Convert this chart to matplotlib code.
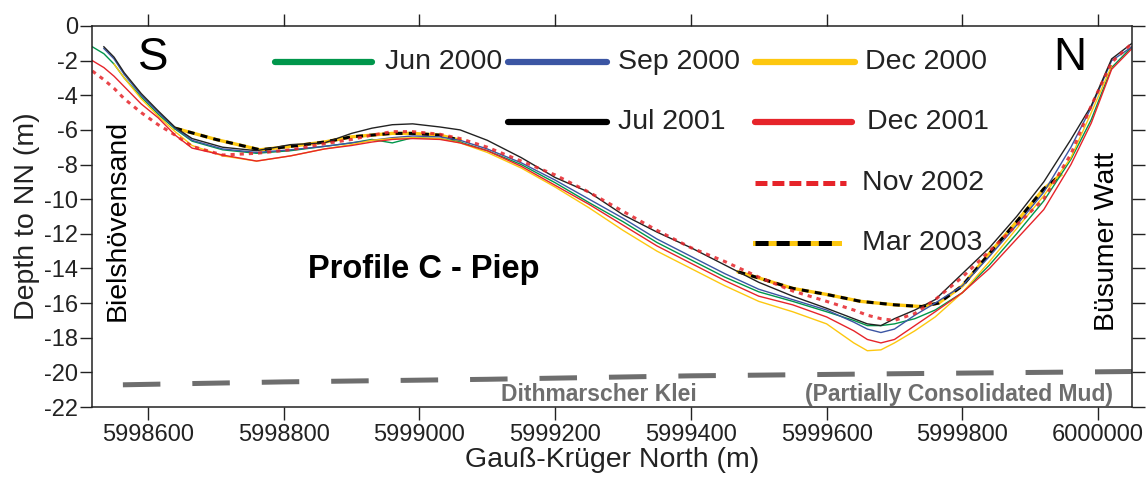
import numpy as np
import matplotlib
matplotlib.use("Agg")
import matplotlib.pyplot as plt

plt.rcParams['font.family'] = ['Liberation Sans', 'DejaVu Sans']
plt.rcParams['axes.unicode_minus'] = False
plt.rcParams['lines.scale_dashes'] = False

# ---------------- data ----------------
grid_x = [5998518, 5998535, 5998550, 5998565, 5998590, 5998615, 5998640, 5998665,
          5998710, 5998760, 5998810, 5998860, 5998900, 5998930, 5998960, 5998990,
          5999030, 5999060, 5999100, 5999150, 5999200, 5999250, 5999300, 5999350,
          5999400, 5999450, 5999500, 5999550, 5999600, 5999640, 5999660, 5999680,
          5999700, 5999730, 5999760, 5999800, 5999840, 5999880, 5999920, 5999960,
          5999990, 6000020, 6000050]
nan = np.nan

jun2000 = [-1.2, -1.6, -2.2, -3.0, -4.1, -5.1, -5.95, -6.65,
           -7.15, -7.35, -7.2, -6.95, -6.75, -6.55, -6.75, -6.45,
           -6.5, -6.7, -7.2, -8.0, -9.05, -10.2, -11.3, -12.5,
           -13.5, -14.5, -15.35, -15.9, -16.5, -17.0, -17.3, -17.3,
           -17.2, -16.9, -16.4, -15.4, -13.8, -12.0, -10.1, -7.7,
           -5.4, -2.4, -1.2]
sep2000 = [nan, -1.3, -1.9, -2.8, -4.0, -5.0, -5.9, -6.6,
           -7.1, -7.3, -7.15, -6.95, -6.75, -6.6, -6.45, -6.35,
           -6.4, -6.6, -7.1, -7.9, -8.9, -10.0, -11.1, -12.3,
           -13.3, -14.3, -15.2, -15.8, -16.4, -17.1, -17.5, -17.7,
           -17.5, -16.7, -16.0, -15.0, -13.3, -11.5, -9.6, -7.0,
           -4.7, -2.0, -1.2]
dec2000 = [nan, nan, -2.2, -3.0, -4.2, -5.2, -6.1, -6.9,
           -7.5, -7.8, -7.5, -7.1, -6.85, -6.6, -6.5, -6.45,
           -6.5, -6.75, -7.3, -8.2, -9.3, -10.5, -11.8, -13.0,
           -14.0, -15.0, -15.9, -16.5, -17.2, -18.3, -18.75, -18.7,
           -18.3, -17.6, -16.8, -15.4, -13.6, -11.7, -9.8, -7.6,
           -5.0, -2.3, nan]
jul2001 = [nan, -1.2, -1.8, -2.7, -3.9, -4.9, -5.85, -6.5,
           -7.0, -7.2, -6.85, -6.75, -6.2, -5.9, -5.7, -5.65,
           -5.83, -6.0, -6.6, -7.6, -8.75, -9.6, -10.9, -11.9,
           -12.8, -13.8, -14.8, -15.6, -16.3, -16.9, -17.2, -17.3,
           -16.9, -16.4, -15.8, -14.3, -12.8, -11.0, -9.0, -6.55,
           -4.6, -1.9, -1.0]
dec2001 = [-2.0, -2.4, -2.9, -3.5, -4.5, -5.3, -6.3, -7.05,
           -7.45, -7.8, -7.5, -7.1, -6.9, -6.7, -6.55, -6.5,
           -6.55, -6.75, -7.2, -8.1, -9.2, -10.3, -11.5, -12.7,
           -13.7, -14.7, -15.6, -16.1, -16.8, -17.6, -18.1, -18.3,
           -18.1, -17.3, -16.5, -15.4, -14.0, -12.3, -10.6, -8.0,
           -5.6, -2.5, -1.3]
nov2002 = [-2.6, -3.1, -3.6, -4.2, -5.0, -5.7, -6.3, -6.95,
           -7.45, -7.35, -7.15, -6.8, -6.55, -6.3, -6.1, -6.1,
           -6.25, -6.5, -7.0, -7.8, -8.6, -9.6, -10.7, -11.8,
           -12.8, -13.6, -14.5, -15.3, -15.9, -16.4, -16.7, -16.9,
           -17.0, -16.6, -15.8, -14.5, -13.0, -11.5, -10.0, -7.4,
           -4.6, -2.1, -1.0]

# Mar 2003 survey: hidden under the other profiles along the middle slope (gap)
mar2003_x = [5998640, 5998700, 5998765, 5998810, 5998860, 5998900, 5998960, 5998990,
             5999030, 5999060, 5999260, 5999470, 5999500, 5999550, 5999600, 5999650,
             5999700, 5999740, 5999765, 5999800, 5999845, 5999880, 5999920, 5999945]
mar2003 = [-5.9, -6.55, -7.15, -6.95, -6.7, -6.4, -6.2, -6.2,
           -6.3, -6.6, nan, -14.2, -14.55, -15.15, -15.5, -15.9,
           -16.1, -16.2, -16.0, -15.0, -12.9, -11.3, -9.4, -8.6]

# Dithmarscher Klei boundary
klei_x = [5998518, 5998800, 5999100, 5999400, 5999700, 6000050]
klei_y = [-20.75, -20.55, -20.4, -20.2, -20.08, -19.95]

xticks = [5998600, 5998800, 5999000, 5999200, 5999400, 5999600, 5999800, 6000000]
yticks = list(range(0, -23, -2))

c_green = "#00964b"
c_blue = "#3b55a3"
c_yellow = "#fdc70f"
c_red = "#e6242a"
c_gray = "#6e6e6e"

# ---------------- figure ----------------
fig = plt.figure(figsize=(11.47, 4.79), dpi=100)
ax = fig.add_axes([92 / 1147, 1 - 407 / 479, 1040 / 1147, 381 / 479])

ax.plot(klei_x, klei_y, color=c_gray, lw=3.6, linestyle=(28, (27, 23)),
        dash_capstyle='butt')

# Mar 2003 sits underneath the other surveys where they overlap
ax.plot(mar2003_x, mar2003, color=c_yellow, lw=2.4, zorder=1.8)
ax.plot(mar2003_x, mar2003, color="black", lw=2.2, linestyle=(0, (5, 4.5)), zorder=1.9)

ax.plot(grid_x, jun2000, color=c_green, lw=1.0)
ax.plot(grid_x, sep2000, color=c_blue, lw=1.0)
ax.plot(grid_x, dec2000, color=c_yellow, lw=1.0)
ax.plot(grid_x, dec2001, color=c_red, lw=1.0)
ax.plot(grid_x, jul2001, color="#222222", lw=1.0)
ax.plot(grid_x, nov2002, color=c_red, lw=2.2, linestyle=(0, (3, 3.6)), alpha=0.85)

ax.set_xlim(5998517.5, 6000050)
ax.set_ylim(-22, 0)
ax.set_xticks(xticks)
ax.set_xticklabels([str(v) for v in xticks])
ax.set_yticks(yticks)
ax.set_yticklabels([str(v) for v in yticks])
ax.tick_params(direction='out', length=9, width=1, labelsize=17, colors="#222222",
               top=True, right=True, labeltop=False, labelright=False)
ax.tick_params(axis='y', pad=1)
ax.tick_params(axis='x', pad=3)
for s in ax.spines.values():
    s.set_linewidth(1.1)
    s.set_color("#222222")

ax.set_xlabel("Gauß-Krüger North (m)", fontsize=20.5, labelpad=1, color="#222222")
ax.set_ylabel("Depth to NN (m)", fontsize=20.5, labelpad=3, color="#222222")

# ---------------- annotations ----------------
T = ax.transAxes
ax.text(0.0587, 0.916, "S", transform=T, fontsize=33, ha='center', va='center')
ax.text(0.940, 0.916, "N", transform=T, fontsize=33, ha='center', va='center')
ax.text(0.2077, 0.36, "Profile C - Piep", transform=T, fontsize=23.5, fontweight='bold',
        ha='left', va='center')
ax.text(0.025, 0.49, "Bielshövensand", transform=T, fontsize=20.5, rotation=90,
        ha='center', va='center')
ax.text(0.976, 0.435, "Büsumer Watt", transform=T, fontsize=20.5, rotation=90,
        ha='center', va='center')
ax.text(0.4875, 0.034, "Dithmarscher Klei", transform=T, fontsize=16.5, fontweight='bold',
        color=c_gray, ha='center', va='center')
ax.text(0.834, 0.034, "(Partially Consolidated Mud)", transform=T, fontsize=16.5,
        fontweight='bold', color=c_gray, ha='center', va='center')

# ---------------- hand-placed legend ----------------
legend_items = [
    ("Jun 2000", 0.176, 0.269, 0.282, 0.9055, dict(color=c_green)),
    ("Sep 2000", 0.400, 0.495, 0.506, 0.9055, dict(color=c_blue)),
    ("Dec 2000", 0.6375, 0.734, 0.743, 0.9055, dict(color=c_yellow)),
    ("Jul 2001", 0.400, 0.495, 0.506, 0.748, dict(color="black")),
    ("Dec 2001", 0.6375, 0.731, 0.745, 0.748, dict(color=c_red)),
]
for lab, x0, x1, xt, y, kw in legend_items:
    ax.plot([x0, x1], [y, y], transform=T, lw=4.5, solid_capstyle='round',
            clip_on=False, **kw)
    ax.text(xt, y, lab, transform=T, fontsize=20.5, ha='left', va='center', color="#222222")

ax.plot([0.6375, 0.725], [0.588, 0.588], transform=T, lw=3.6, color=c_red,
        linestyle=(0, (8.6, 3.6)), clip_on=False)
ax.text(0.740, 0.588, "Nov 2002", transform=T, fontsize=20.5, ha='left', va='center',
        color="#222222")
ax.plot([0.6375, 0.718], [0.430, 0.430], transform=T, lw=3.6, color=c_yellow, clip_on=False)
ax.plot([0.6375, 0.718], [0.430, 0.430], transform=T, lw=3.6, color="black",
        linestyle=(0, (9.4, 5.8)), clip_on=False)
ax.text(0.740, 0.430, "Mar 2003", transform=T, fontsize=20.5, ha='left', va='center',
        color="#222222")

fig.savefig("out.png", dpi=100)
